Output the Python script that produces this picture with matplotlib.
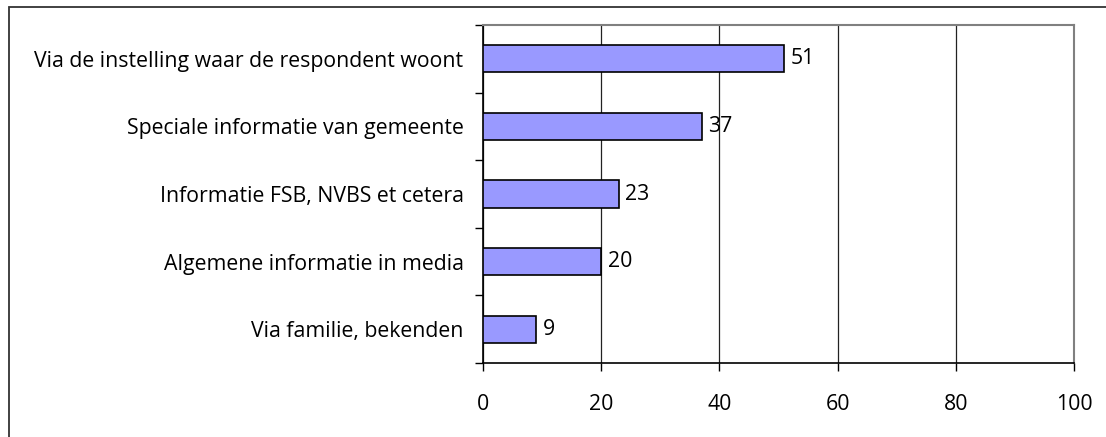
import matplotlib
matplotlib.use("Agg")
import matplotlib.pyplot as plt
from matplotlib.patches import Rectangle

# data
categories = [
    "Via de instelling waar de respondent woont",
    "Speciale informatie van gemeente",
    "Informatie FSB, NVBS et cetera",
    "Algemene informatie in media",
    "Via familie, bekenden",
]
values = [51, 37, 23, 20, 9]
xticks = [0, 20, 40, 60, 80, 100]

plt.rcParams['font.family'] = ['Open Sans', 'DejaVu Sans']
FS = 15.3

W, H = 1106, 437
fig = plt.figure(figsize=(W / 100, H / 100), dpi=100)
ax = fig.add_axes([483 / W, 1 - 363 / H, (1074 - 483) / W, (363 - 25) / H])

pos = list(range(len(categories)))
bars = ax.barh(pos, values, height=0.4, color='#9999FF', edgecolor='black',
               linewidth=1.2, zorder=3)
for b, v in zip(bars, values):
    ax.text(b.get_width() + 1.1, b.get_y() + b.get_height() / 2, str(v),
            va='center', ha='left', fontsize=FS, zorder=4)

ax.set_xlim(0, 100)
ax.set_ylim(len(categories) - 0.5, -0.5)
ax.set_xticks(xticks)
ax.set_xticklabels([str(t) for t in xticks], fontsize=FS)
ax.set_yticks(pos)
ax.set_yticklabels(categories, fontsize=FS)
ax.set_yticks([p - 0.5 for p in pos] + [len(pos) - 0.5], minor=True)

ax.tick_params(axis='y', which='major', length=0, pad=14)
ax.tick_params(axis='y', which='minor', length=6, width=1, direction='out')
ax.tick_params(axis='x', which='major', length=6, width=1, direction='out', pad=16)

ax.xaxis.grid(True, color='#222222', linewidth=0.9, zorder=0)
ax.set_axisbelow(True)

for side in ('left', 'bottom'):
    ax.spines[side].set_color('black')
    ax.spines[side].set_linewidth(1.2)
for side in ('top', 'right'):
    ax.spines[side].set_color('#808080')
    ax.spines[side].set_linewidth(1.5)

# outer chart frame, runs off the right and bottom edges like the original
fig.patches.append(Rectangle((9 / W, -0.05), 1.2, 1 - 7 / H + 0.05,
                             transform=fig.transFigure, fill=False,
                             edgecolor='#333333', linewidth=1.3))

fig.savefig("out.png", dpi=100)
